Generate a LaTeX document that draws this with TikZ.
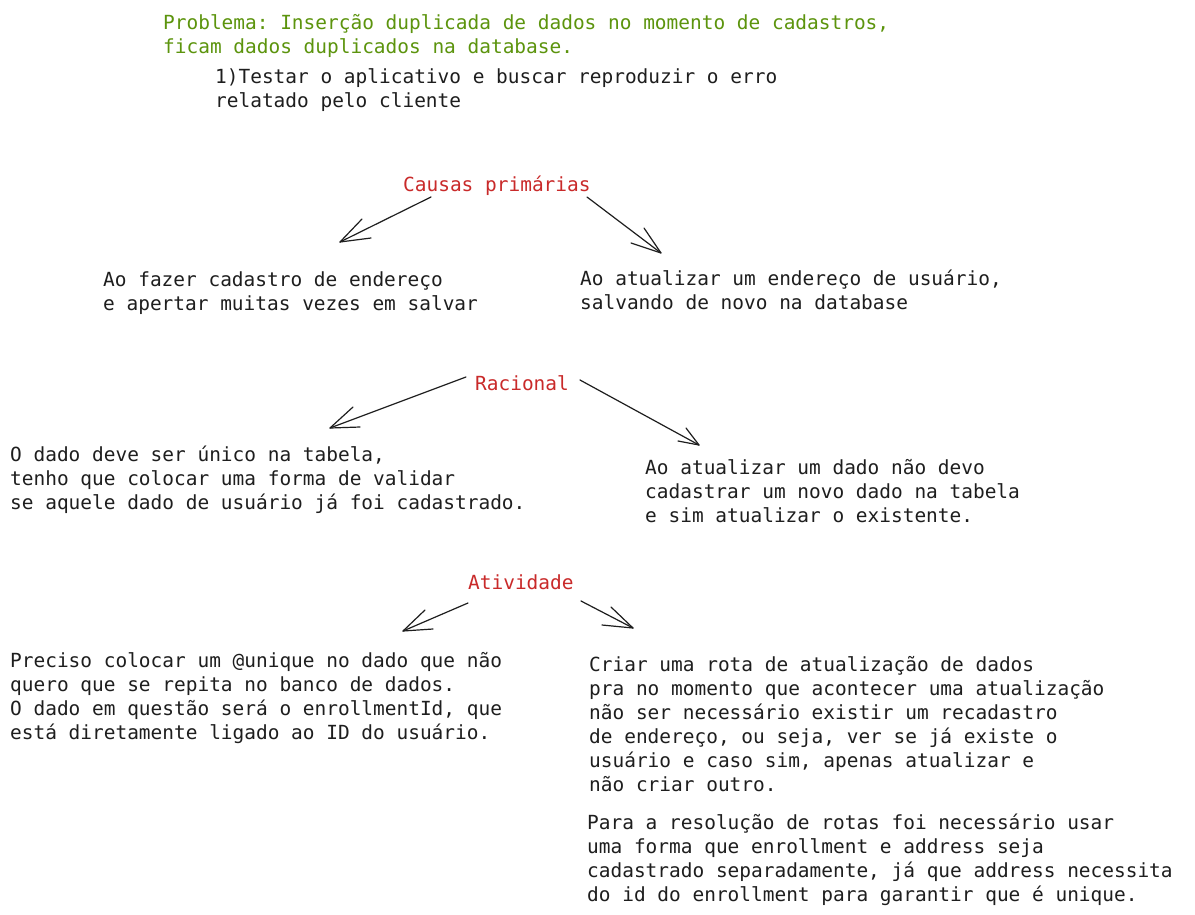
\documentclass[tikz,border=0pt]{standalone}
\usepackage{fontspec}
\setmonofont{DejaVu Sans Mono}
\definecolor{exgreen}{HTML}{5C940D}
\definecolor{exred}{HTML}{C92A2A}
\definecolor{exink}{HTML}{1E1E1E}
\begin{document}
\begin{tikzpicture}[x=1pt,y=-1pt,
  txt/.style={anchor=west,inner sep=0pt,align=left,text=exink,
    font=\ttfamily\fontsize{19.45}{24}\selectfont},
  head/.style={txt,text=exred},
  prob/.style={txt,text=exgreen},
  conn/.style={draw=exink,line width=1.2pt,line cap=round,line join=round}]
\useasboundingbox[fill=white] (0,0) rectangle (1195,914);

\node[prob] (prob) at (163,36) {Problema: Inserção duplicada de dados no momento de cadastros,\\ficam dados duplicados na database.};
\node[txt] (step1) at (215,90) {1)Testar o aplicativo e buscar reproduzir o erro\\relatado pelo cliente};

\node[head] (causas) at (403,186) {Causas primárias};
\node[txt] (c1) at (103,293) {Ao fazer cadastro de endereço\\e apertar muitas vezes em salvar};
\node[txt] (c2) at (580,290) {Ao atualizar um endereço de usuário,\\salvando de novo na database};

\node[head] (racional) at (475,383) {Racional};
\node[txt] (r1) at (10,480) {O dado deve ser único na tabela,\\tenho que colocar uma forma de validar\\se aquele dado de usuário já foi cadastrado.};
\node[txt] (r2) at (645,491) {Ao atualizar um dado não devo\\cadastrar um novo dado na tabela\\e sim atualizar o existente.};

\node[head] (ativ) at (468,582) {Atividade};
\node[txt] (a1) at (10,698) {Preciso colocar um @unique no dado que não\\quero que se repita no banco de dados.\\O dado em questão será o enrollmentId, que\\está diretamente ligado ao ID do usuário.};
\node[txt] (a2) at (589,724) {Criar uma rota de atualização de dados\\pra no momento que acontecer uma atualização\\não ser necessário existir um recadastro\\de endereço, ou seja, ver se já existe o\\usuário e caso sim, apenas atualizar e\\não criar outro.};
\node[txt] (a3) at (587,860) {Para a resolução de rotas foi necessário usar\\uma forma que enrollment e address seja\\cadastrado separadamente, já que address necessita\\do id do enrollment para garantir que é unique.};

% connectors: start coordinate, tip coordinate, two barb ends
\coordinate (s1) at (431,197); \coordinate (t1) at (340,242);
\coordinate (s2) at (587,197); \coordinate (t2) at (661,253);
\coordinate (s3) at (466,377); \coordinate (t3) at (330,428);
\coordinate (s4) at (580,380); \coordinate (t4) at (699,445);
\coordinate (s5) at (468,603); \coordinate (t5) at (403,631);
\coordinate (s6) at (581,601); \coordinate (t6) at (633,628);

\draw[conn] (s1) -- (t1); \draw[conn] (362,219) -- (t1) -- (371,238);
\draw[conn] (s2) -- (t2); \draw[conn] (644,228) -- (t2) -- (631,243);
\draw[conn] (s3) -- (t3); \draw[conn] (353,407) -- (t3) -- (360,427);
\draw[conn] (s4) -- (t4); \draw[conn] (686,428) -- (t4) -- (678,441);
\draw[conn] (s5) -- (t5); \draw[conn] (425,610) -- (t5) -- (433,629);
\draw[conn] (s6) -- (t6); \draw[conn] (611,607) -- (t6) -- (602,625);
\end{tikzpicture}
\end{document}
